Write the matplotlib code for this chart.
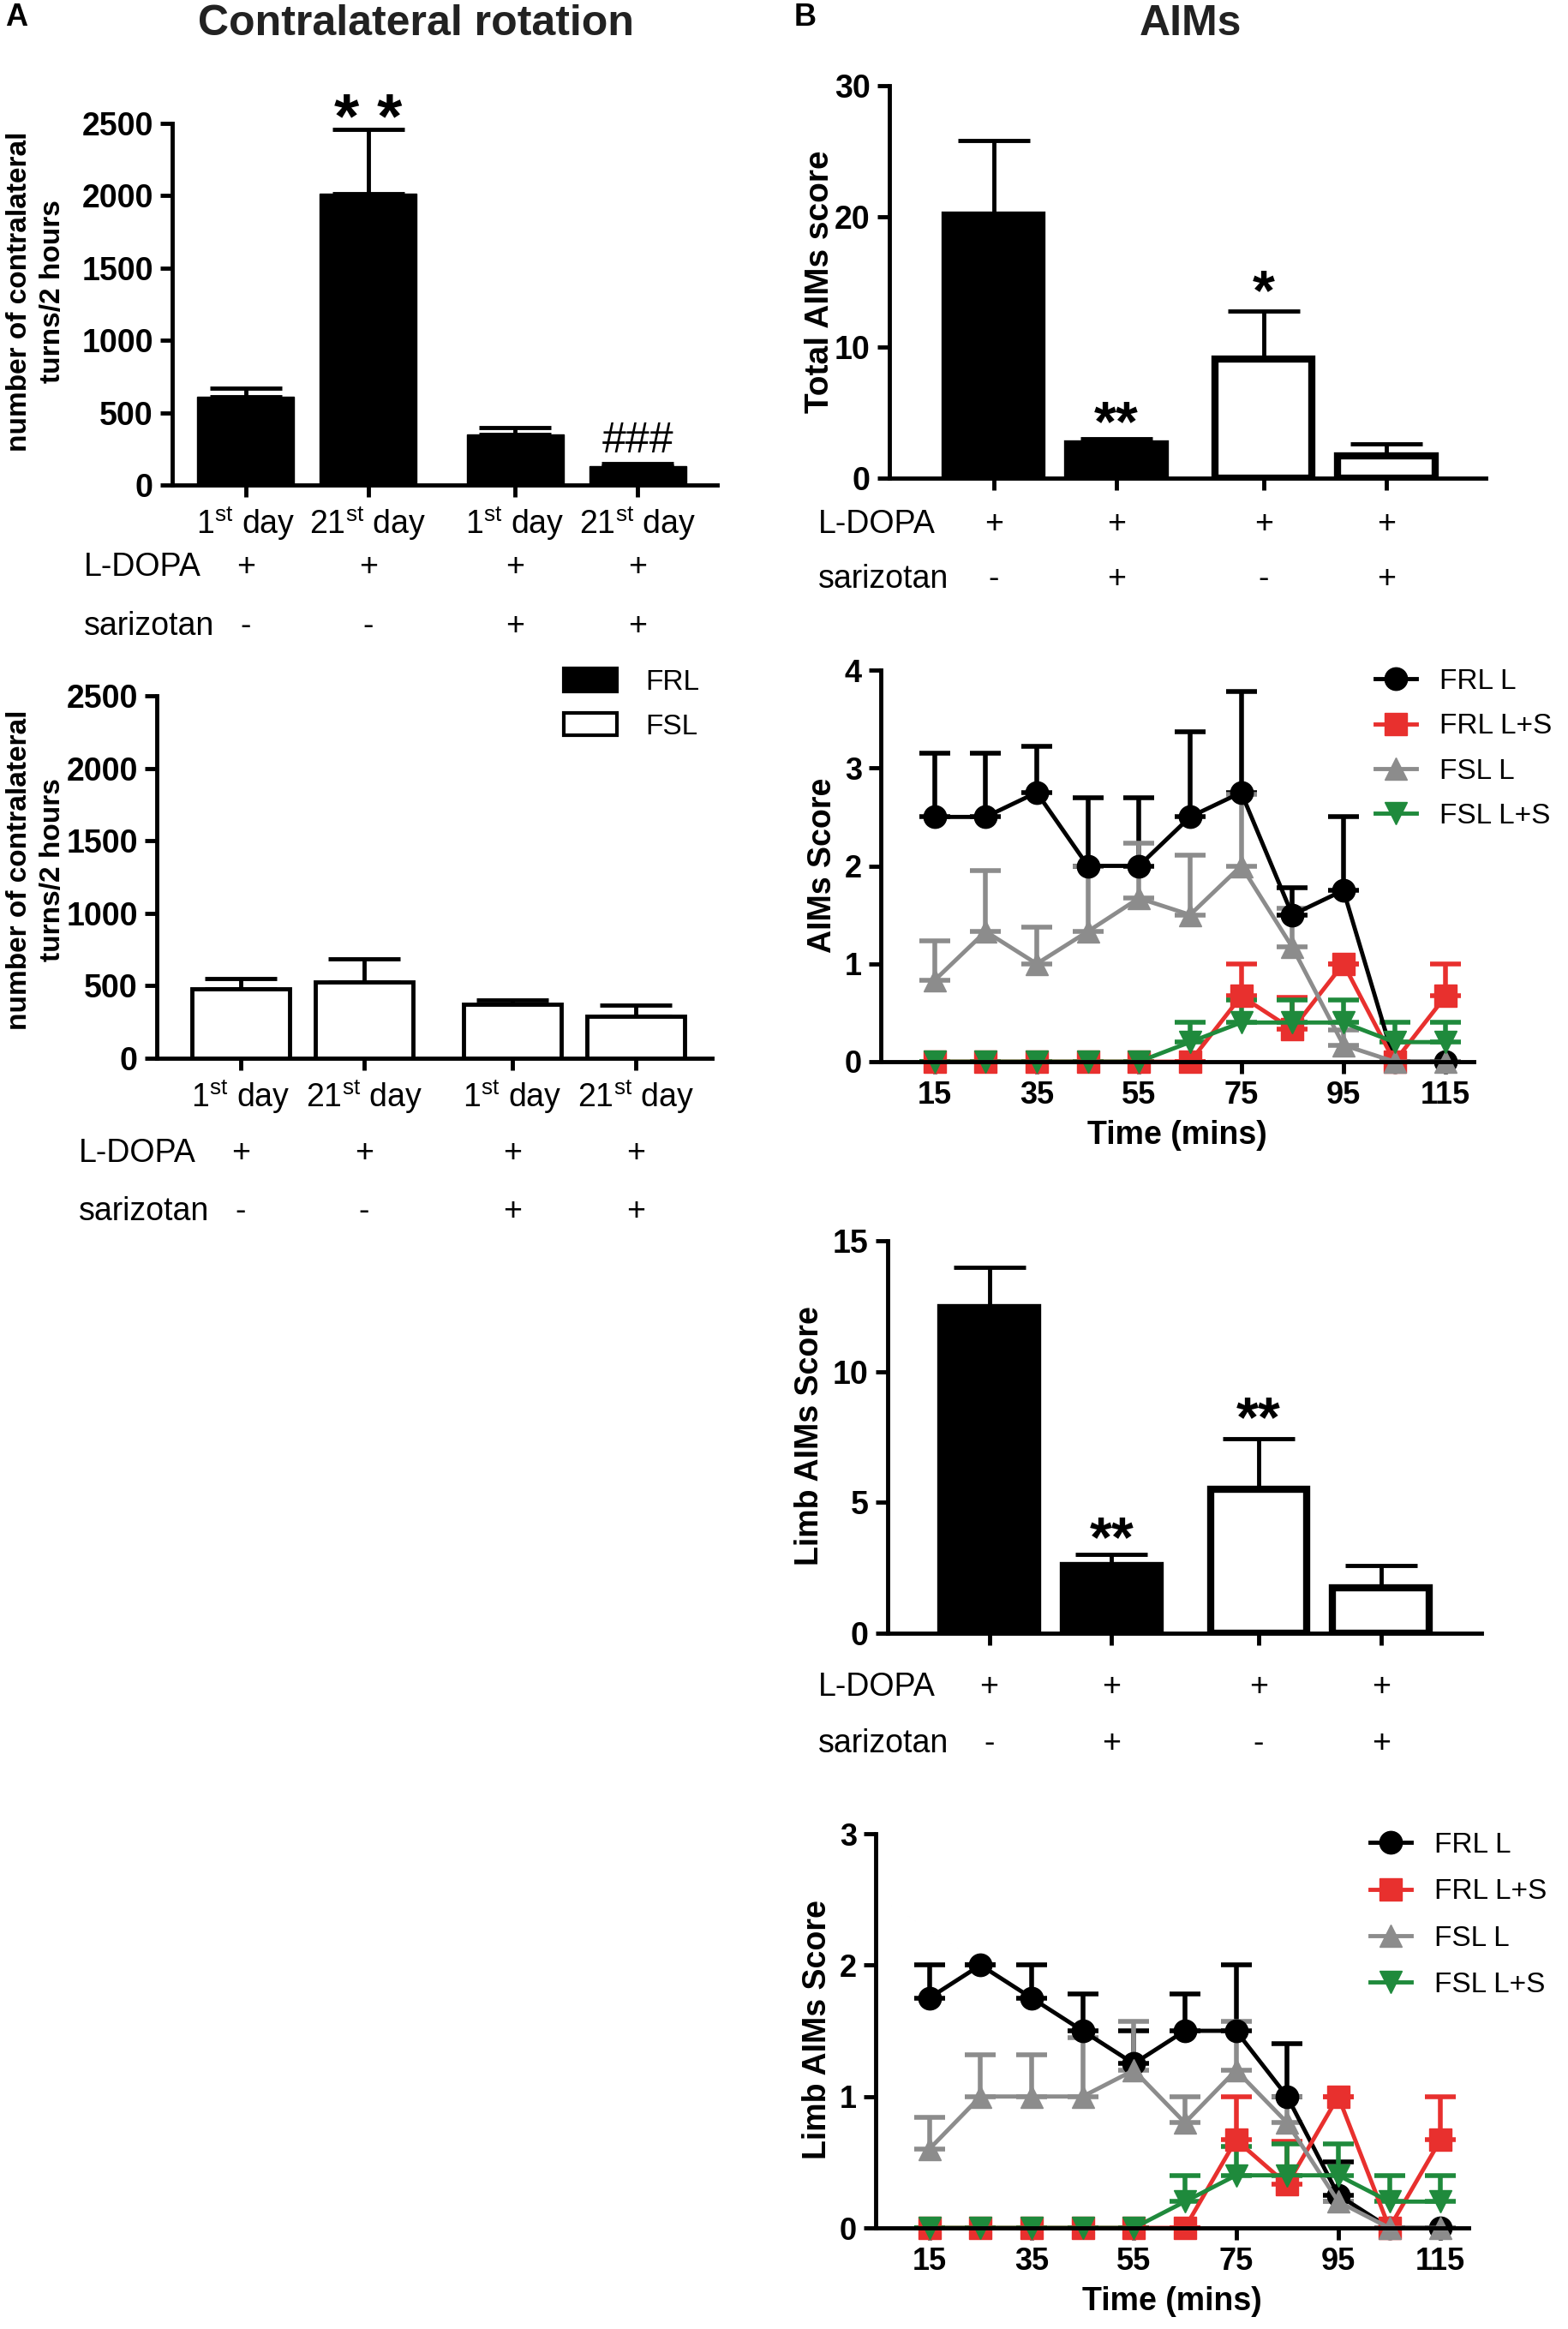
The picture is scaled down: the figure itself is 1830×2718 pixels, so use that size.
import matplotlib
matplotlib.use("Agg")
import matplotlib.pyplot as plt
from matplotlib import font_manager
from matplotlib.lines import Line2D
from matplotlib.patches import Patch
from matplotlib.transforms import blended_transform_factory
import numpy as np

# ---- data ----
day_labels = [r'1$^{\mathrm{st}}$ day', r'21$^{\mathrm{st}}$ day',
              r'1$^{\mathrm{st}}$ day', r'21$^{\mathrm{st}}$ day']
ldopa_A = ['+', '+', '+', '+']
sariz_A = ['-', '-', '+', '+']
frl_turns = [611, 2016, 352, 130]
frl_turns_err = [58, 441, 43, 20]
fsl_turns = [477, 528, 374, 289]
fsl_turns_err = [72, 155, 26, 80]

ldopa_B = ['+', '+', '+', '+']
sariz_B = ['-', '+', '-', '+']
total_aims = [20.1, 2.6, 9.1, 1.7]
total_aims_err = [5.7, 0.4, 3.7, 0.9]
limb_aims = [12.45, 2.6, 5.5, 1.75]
limb_aims_err = [1.55, 0.4, 1.95, 0.85]
bar_colors_B = ['black', 'black', 'white', 'white']

time_mins = [15, 25, 35, 45, 55, 65, 75, 85, 95, 105, 115]
aims_frl_l = [2.5, 2.5, 2.75, 2.0, 2.0, 2.5, 2.75, 1.5, 1.75, 0, 0]
aims_frl_l_err = [0.65, 0.65, 0.47, 0.7, 0.7, 0.87, 1.03, 0.28, 0.75, 0, 0]
aims_frl_ls = [0, 0, 0, 0, 0, 0, 0.67, 0.33, 1.0, 0, 0.67]
aims_frl_ls_err = [0, 0, 0, 0, 0, 0, 0.33, 0.33, 0, 0, 0.33]
aims_fsl_l = [0.83, 1.33, 1.0, 1.33, 1.67, 1.5, 2.0, 1.17, 0.17, 0, 0]
aims_fsl_l_err = [0.4, 0.62, 0.37, 0.67, 0.56, 0.61, 0.73, 0.4, 0.15, 0, 0]
aims_fsl_ls = [0, 0, 0, 0, 0, 0.2, 0.4, 0.4, 0.4, 0.2, 0.2]
aims_fsl_ls_err = [0, 0, 0, 0, 0, 0.2, 0.23, 0.23, 0.23, 0.2, 0.2]

limb_frl_l = [1.75, 2.0, 1.75, 1.5, 1.25, 1.5, 1.5, 1.0, 0.25, 0, 0]
limb_frl_l_err = [0.25, 0, 0.25, 0.28, 0.25, 0.28, 0.5, 0.4, 0.25, 0, 0]
limb_frl_ls = [0, 0, 0, 0, 0, 0, 0.67, 0.33, 1.0, 0, 0.67]
limb_frl_ls_err = [0, 0, 0, 0, 0, 0, 0.33, 0.33, 0, 0, 0.33]
limb_fsl_l = [0.6, 1.0, 1.0, 1.0, 1.2, 0.8, 1.2, 0.8, 0.2, 0, 0]
limb_fsl_l_err = [0.24, 0.32, 0.32, 0.45, 0.37, 0.2, 0.37, 0.2, 0, 0, 0]
limb_fsl_ls = [0, 0, 0, 0, 0, 0.2, 0.4, 0.4, 0.4, 0.2, 0.2]
limb_fsl_ls_err = [0, 0, 0, 0, 0, 0.2, 0.22, 0.24, 0.24, 0.2, 0.2]

series_names = ['FRL L', 'FRL L+S', 'FSL L', 'FSL L+S']

# ---- fonts / layout ----
def have(name):
    try:
        font_manager.findfont(name, fallback_to_default=False)
        return True
    except Exception:
        return False

NARROW = 'Liberation Sans Narrow' if have('Liberation Sans Narrow') else 'Liberation Sans'
SANS = 'Liberation Sans'
plt.rcParams['font.family'] = [NARROW, 'DejaVu Sans']
plt.rcParams['mathtext.fontset'] = 'custom'
plt.rcParams['mathtext.rm'] = NARROW
plt.rcParams['mathtext.it'] = NARROW + ':italic'
plt.rcParams['mathtext.bf'] = NARROW + ':bold'

W, H = 1830, 2718
fig = plt.figure(figsize=(W / 100, H / 100), dpi=100)

bar_pos = [0, 1, 2.2, 3.2]
line_colors = ['black', '#e8302e', '#8c8c8c', '#1f8a3c']
line_markers = ['o', 's', '^', 'v']


def fy(y):
    return 1 - y / H


def add_ax(x0, y0, x1, y1):
    return fig.add_axes([x0 / W, 1 - y1 / H, (x1 - x0) / W, (y1 - y0) / H])


def style(ax, labelsize=27):
    for s in ['top', 'right']:
        ax.spines[s].set_visible(False)
    for s in ['left', 'bottom']:
        ax.spines[s].set_linewidth(3.5)
    ax.tick_params(axis='both', width=3.5, length=10, labelsize=labelsize, pad=6)
    for lab in ax.get_yticklabels():
        lab.set_fontweight('bold')


def bar_panel(ax, vals, errs, colors, ylim, yticks, lw):
    ax.bar(bar_pos, vals, width=0.79, color=colors, edgecolor='black',
           linewidth=lw, zorder=2)
    ax.errorbar(bar_pos, vals, yerr=[np.zeros(len(vals)), errs], fmt='none',
                ecolor='black', elinewidth=3.5, capsize=30, capthick=3.5, zorder=1)
    ax.set_ylim(*ylim)
    ax.set_yticks(yticks)
    ax.set_xticks(bar_pos)
    ax.tick_params(axis='x', length=14)


def rows(ax, ldopa, sariz, x_lab, y_ld, y_sz):
    trans = blended_transform_factory(ax.transData, fig.transFigure)
    fig.text(x_lab / W, fy(y_ld), 'L-DOPA', ha='left', va='center', fontsize=27, family=SANS)
    fig.text(x_lab / W, fy(y_sz), 'sarizotan', ha='left', va='center', fontsize=27, family=SANS)
    for p, a, b in zip(bar_pos, ldopa, sariz):
        ax.text(p, fy(y_ld), a, transform=trans, ha='center', va='center', fontsize=27, family=SANS)
        ax.text(p, fy(y_sz), b, transform=trans, ha='center', va='center', fontsize=27, family=SANS)


def ylab(text, x, y, size=27):
    fig.text(x / W, fy(y), text, rotation=90, ha='center', va='center',
             fontsize=size, fontweight='bold', family=SANS, multialignment='center',
             linespacing=1.3)


def line_panel(ax, series, errs, ylim, x0, y0, spacing):
    for vals, err, c, m in zip(series, errs, line_colors, line_markers):
        ax.errorbar(time_mins, vals, yerr=[np.zeros(len(vals)), err], color=c,
                    marker=m, markersize=19, linewidth=3.5, elinewidth=4,
                    capsize=13, capthick=4, clip_on=False)
    ax.set_xlim(4.5, 120.5)
    ax.set_ylim(*ylim)
    ax.set_xticks([15, 35, 55, 75, 95, 115])
    ax.set_yticks(range(ylim[1] + 1))
    style(ax, labelsize=26)
    for lab in ax.get_xticklabels():
        lab.set_fontweight('bold')
    handles = [Line2D([], [], color=c, marker=m, markersize=19, linewidth=3.5)
               for c, m in zip(line_colors, line_markers)]
    ax.legend(handles, series_names, loc='upper left', bbox_to_anchor=(x0 / W, fy(y0)),
              bbox_transform=fig.transFigure, frameon=False, borderpad=0,
              borderaxespad=0, handlelength=1.45, handletextpad=0.8,
              labelspacing=spacing, fontsize=24)


# ---- panel A top ----
axA1 = add_ax(201, 144, 837, 566)
axA1.set_xlim(-0.6, 3.85)
bar_panel(axA1, frl_turns, frl_turns_err, 'black', (0, 2500), range(0, 2501, 500), 1)
style(axA1)
axA1.set_xticklabels(day_labels, fontsize=27)
axA1.text(bar_pos[1], 2515, '* *', ha='center', va='center', fontsize=54, fontweight='bold', family=SANS)
axA1.text(bar_pos[3], 300, '###', ha='center', va='center', fontsize=36, family=SANS)
rows(axA1, ldopa_A, sariz_A, 98, 662, 731)
ylab('number of contralateral\nturns/2 hours', 42, 340, 24)

# ---- panel A bottom ----
axA2 = add_ax(183, 812, 831, 1235)
axA2.set_xlim(-0.68, 3.82)
bar_panel(axA2, fsl_turns, fsl_turns_err, 'white', (0, 2500), range(0, 2501, 500), 3.5)
style(axA2)
axA2.set_xticklabels(day_labels, fontsize=27)
rows(axA2, ldopa_A, sariz_A, 92, 1346, 1414)
ylab('number of contralateral\nturns/2 hours', 42, 1015, 24)
axA2.legend([Patch(facecolor='black', edgecolor='black', linewidth=3),
             Patch(facecolor='white', edgecolor='black', linewidth=3)],
            ['FRL', 'FSL'], loc='upper left', bbox_to_anchor=(658 / W, fy(780)),
            bbox_transform=fig.transFigure, frameon=False, borderpad=0,
            borderaxespad=0, handlelength=1.85, handleheight=0.85,
            handletextpad=1.0, labelspacing=0.6, fontsize=24)

# ---- panel B total AIMs ----
axB1 = add_ax(1038, 100, 1734, 558)
axB1.set_xlim(-0.85, 4.01)
bar_panel(axB1, total_aims, total_aims_err, bar_colors_B, (0, 30), range(0, 31, 10), 6)
style(axB1)
axB1.set_xticklabels([])
axB1.text(bar_pos[1], 4.0, '**', ha='center', va='center', fontsize=48, fontweight='bold', family=SANS)
axB1.text(bar_pos[2], 14.0, '*', ha='center', va='center', fontsize=48, fontweight='bold', family=SANS)
rows(axB1, ldopa_B, sariz_B, 955, 612, 676)
ylab('Total AIMs score', 957, 329, 28)

# ---- panel B AIMs time course ----
axB2 = add_ax(1028, 782, 1720, 1239)
line_panel(axB2, [aims_frl_l, aims_frl_ls, aims_fsl_l, aims_fsl_ls],
           [aims_frl_l_err, aims_frl_ls_err, aims_fsl_l_err, aims_fsl_ls_err], (0, 4),
           1605, 780, 0.64)
axB2.set_xlabel('Time (mins)', fontsize=27, fontweight='bold', labelpad=8)
ylab('AIMs Score', 960, 1010, 27)

# ---- panel B limb AIMs ----
axB3 = add_ax(1036, 1448, 1729, 1906)
axB3.set_xlim(-0.83, 4.02)
bar_panel(axB3, limb_aims, limb_aims_err, bar_colors_B, (0, 15), range(0, 16, 5), 6)
style(axB3)
axB3.set_xticklabels([])
axB3.text(bar_pos[1], 3.5, '**', ha='center', va='center', fontsize=48, fontweight='bold', family=SANS)
axB3.text(bar_pos[2], 8.1, '**', ha='center', va='center', fontsize=48, fontweight='bold', family=SANS)
rows(axB3, ldopa_B, sariz_B, 955, 1969, 2035)
ylab('Limb AIMs Score', 945, 1676, 27)

# ---- panel B limb AIMs time course ----
axB4 = add_ax(1022, 2140, 1714, 2600)
line_panel(axB4, [limb_frl_l, limb_frl_ls, limb_fsl_l, limb_fsl_ls],
           [limb_frl_l_err, limb_frl_ls_err, limb_fsl_l_err, limb_fsl_ls_err], (0, 3),
           1599, 2138, 0.7)
axB4.set_xlabel('Time (mins)', fontsize=27, fontweight='bold', labelpad=8)
ylab('Limb AIMs Score', 954, 2369, 27)

# ---- titles ----
fig.text(486 / W, fy(28), 'Contralateral rotation', ha='center', va='center',
         fontsize=36, fontweight='bold', family=SANS, color='#222222')
fig.text(1389 / W, fy(28), 'AIMs', ha='center', va='center',
         fontsize=36, fontweight='bold', family=SANS, color='#222222')
fig.text(6 / W, fy(21), 'A', ha='left', va='center', fontsize=26, fontweight='bold', family=SANS)
fig.text(927 / W, fy(21), 'B', ha='left', va='center', fontsize=26, fontweight='bold', family=SANS)

fig.savefig('out.png', dpi=100)
